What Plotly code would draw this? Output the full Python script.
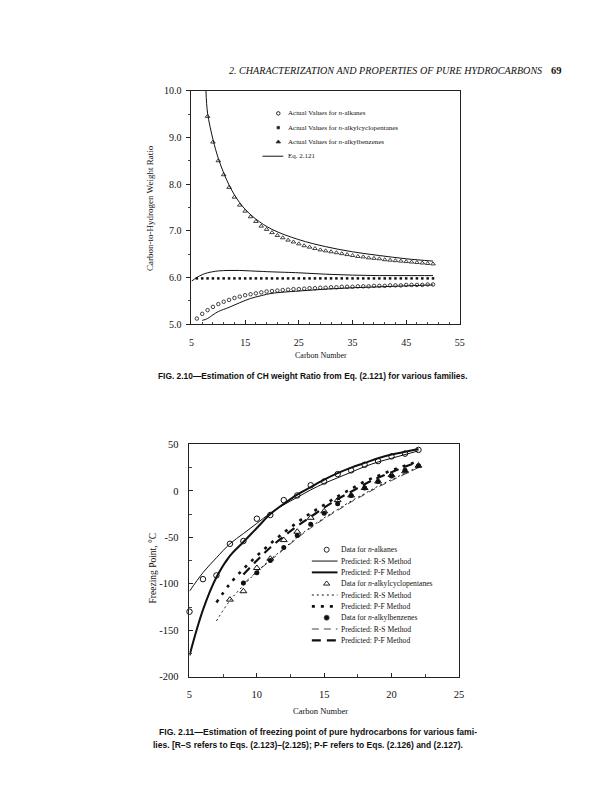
import plotly.graph_objects as go

# ---------------- FIG. 2.10 data (CH weight ratio) ----------------
cn_alkanes = list(range(6, 51))
ch_alkanes = [5.12, 5.22, 5.30, 5.37, 5.43, 5.48, 5.52, 5.56, 5.59, 5.62, 5.64, 5.66,
              5.68, 5.70, 5.71, 5.72, 5.73, 5.74, 5.75, 5.75, 5.76, 5.77, 5.77, 5.78,
              5.78, 5.79, 5.79, 5.80, 5.80, 5.80, 5.81, 5.81, 5.81, 5.82, 5.82, 5.82,
              5.83, 5.83, 5.83, 5.84, 5.84, 5.84, 5.84, 5.85, 5.85]
cn_cyclo = list(range(6, 51))
ch_cyclo = [5.98, 5.98, 5.98, 5.98, 5.98, 5.98, 5.98, 5.98, 5.98, 5.98, 5.98, 5.98,
            5.98, 5.98, 5.98, 5.98, 5.98, 5.98, 5.98, 5.98, 5.98, 5.98, 5.98, 5.98,
            5.98, 5.98, 5.98, 5.98, 5.98, 5.98, 5.98, 5.98, 5.98, 5.98, 5.98, 5.98,
            5.98, 5.98, 5.98, 5.98, 5.98, 5.98, 5.98, 5.98, 5.98]
cn_benz = list(range(8, 51))
ch_benz = [9.45, 8.90, 8.50, 8.20, 7.93, 7.72, 7.55, 7.42, 7.30, 7.20, 7.10, 7.03,
           6.96, 6.90, 6.85, 6.80, 6.76, 6.72, 6.68, 6.65, 6.62, 6.59, 6.57, 6.55,
           6.53, 6.51, 6.49, 6.47, 6.45, 6.44, 6.42, 6.41, 6.40, 6.38, 6.37, 6.36,
           6.35, 6.34, 6.33, 6.32, 6.31, 6.30, 6.29]

eq_cn_alk = [7, 8, 9, 10, 12, 14, 16, 18, 20, 25, 30, 35, 40, 45, 50]
eq_ch_alk = [5.08, 5.12, 5.20, 5.27, 5.36, 5.46, 5.55, 5.61, 5.66, 5.71, 5.75, 5.78, 5.80, 5.82, 5.84]
eq_cn_cyc = [5, 6, 7, 8, 10, 12, 14, 16, 18, 20, 25, 30, 35, 40, 45, 50]
eq_ch_cyc = [5.92, 6.00, 6.06, 6.10, 6.14, 6.15, 6.15, 6.14, 6.13, 6.12, 6.10, 6.07, 6.05, 6.04, 6.04, 6.04]
eq_cn_bz = [7.7, 8, 9, 10, 11, 12, 13, 14, 15, 17, 20, 25, 30, 35, 40, 45, 50]
eq_ch_bz = [10.0, 9.52, 8.96, 8.55, 8.24, 7.98, 7.77, 7.60, 7.46, 7.25, 7.03, 6.81, 6.66, 6.55, 6.47, 6.40, 6.35]

top_xticks = [5, 15, 25, 35, 45, 55]
top_yticks = [5.0, 6.0, 7.0, 8.0, 9.0, 10.0]

# ---------------- FIG. 2.11 data (freezing point, °C) ----------------
cn_fp_alk = list(range(5, 23))
fp_alkanes = [-130, -95, -91, -57, -54, -30, -26, -10, -5, 6, 10, 18, 22, 28, 32, 37, 40, 44]
rs_alk = [-108, -88, -72, -57, -46, -35, -24, -15, -7, 1, 8, 14, 20, 26, 31, 35, 39, 43]
pf_alk = [-177, -128, -93, -70, -55, -40, -25, -14, -4, 4, 12, 19, 25, 30, 35, 39, 42, 45]

cn_fp_cyc = list(range(8, 23))
fp_cyclo = [-117, -108, -83, -73, -53, -44, -29, -22, -10, -5, 3, 10, 17, 21, 27]
cn_line_cyc = list(range(7, 23))
rs_cyc = [-140, -118, -102, -87, -74, -62, -50, -39, -29, -20, -11, -3, 5, 12, 19, 26]
pf_cyc = [-120, -100, -84, -70, -57, -45, -34, -24, -15, -6, 2, 10, 16, 22, 27, 32]

cn_fp_bz = list(range(9, 23))
fp_benz = [-99, -88, -75, -61, -48, -36, -24, -14, -5, 3, 10, 16, 22, 27]
rs_bz = [-100, -87, -75, -63, -51, -40, -30, -21, -12, -4, 4, 11, 18, 25]
pf_bz = [-90, -75, -61, -49, -38, -28, -18, -9, -1, 7, 14, 20, 26, 31]

bot_xticks = [5, 10, 15, 20, 25]
bot_yticks = [-200, -150, -100, -50, 0, 50]
bot_yticktext = ["-200", "-150", "-100", "-50", "0", "50"]

W, H = 604, 800
SERIF = "Liberation Serif"
SANS = "Liberation Sans"
BLACK = "#111111"

fig = go.Figure()

# ----- top chart traces -----
for xs, ys in [(eq_cn_alk, eq_ch_alk), (eq_cn_cyc, eq_ch_cyc), (eq_cn_bz, eq_ch_bz)]:
    fig.add_trace(go.Scatter(x=xs, y=ys, mode="lines", line=dict(color=BLACK, width=1, shape="spline"),
                             xaxis="x", yaxis="y", showlegend=False))
fig.add_trace(go.Scatter(x=cn_alkanes, y=ch_alkanes, mode="markers", cliponaxis=False,
                         marker=dict(symbol="circle-open", size=3.5, color=BLACK, line=dict(width=0.8)),
                         xaxis="x", yaxis="y", showlegend=False))
fig.add_trace(go.Scatter(x=cn_cyclo, y=ch_cyclo, mode="markers", cliponaxis=False,
                         marker=dict(symbol="square", size=2.5, color=BLACK),
                         xaxis="x", yaxis="y", showlegend=False))
fig.add_trace(go.Scatter(x=cn_benz, y=ch_benz, mode="markers", cliponaxis=False,
                         marker=dict(symbol="triangle-up-open", size=4, color=BLACK, line=dict(width=0.8)),
                         xaxis="x", yaxis="y", showlegend=False))

# ----- bottom chart traces -----
def line(x, y, width, dash):
    return go.Scatter(x=x, y=y, mode="lines", line=dict(color=BLACK, width=width, dash=dash, shape="spline"),
                      xaxis="x2", yaxis="y2", showlegend=False)

fig.add_trace(line(cn_fp_alk, rs_alk, 1, "solid"))
fig.add_trace(line(cn_fp_alk, pf_alk, 2, "solid"))
fig.add_trace(line(cn_line_cyc, rs_cyc, 1, "2px,3px"))
fig.add_trace(line(cn_line_cyc, pf_cyc, 2.6, "3px,6px"))
fig.add_trace(line(cn_fp_bz, rs_bz, 0.8, "7px,5px"))
fig.add_trace(line(cn_fp_bz, pf_bz, 2.2, "9px,6px"))
fig.add_trace(go.Scatter(x=cn_fp_alk, y=fp_alkanes, mode="markers", cliponaxis=False,
                         marker=dict(symbol="circle-open", size=5.5, color=BLACK, line=dict(width=1)),
                         xaxis="x2", yaxis="y2", showlegend=False))
fig.add_trace(go.Scatter(x=cn_fp_cyc, y=fp_cyclo, mode="markers", cliponaxis=False,
                         marker=dict(symbol="triangle-up-open", size=6, color=BLACK, line=dict(width=1)),
                         xaxis="x2", yaxis="y2", showlegend=False))
fig.add_trace(go.Scatter(x=cn_fp_bz, y=fp_benz, mode="markers", cliponaxis=False,
                         marker=dict(symbol="circle", size=5, color=BLACK),
                         xaxis="x2", yaxis="y2", showlegend=False))

# ----- legend keys (hidden page-pixel axis x3/y3) -----
def key_marker(px, py, symbol, size):
    fig.add_trace(go.Scatter(x=[px], y=[py], mode="markers",
                             marker=dict(symbol=symbol, size=size, color=BLACK, line=dict(width=0.9)),
                             xaxis="x3", yaxis="y3", showlegend=False, hoverinfo="skip"))

def key_line(x0, x1, py, width, dash):
    fig.add_trace(go.Scatter(x=[x0, x1], y=[py, py], mode="lines",
                             line=dict(color=BLACK, width=width, dash=dash),
                             xaxis="x3", yaxis="y3", showlegend=False, hoverinfo="skip"))

annotations = []
def key_text(px, py, text, size):
    annotations.append(dict(x=px, y=py, xref="x3", yref="y3", text=text, showarrow=False,
                            xanchor="left", yanchor="middle",
                            font=dict(family=SERIF, size=size, color=BLACK)))

top_leg_labels = ["Actual Values for <i>n</i>-alkanes",
                  "Actual Values for <i>n</i>-alkylcyclopentanes",
                  "Actual Values for <i>n</i>-alkylbenzenes",
                  "Eq. 2.121"]
top_rows = [109, 123.5, 138, 152.5]
key_marker(279, top_rows[0], "circle-open", 3.5)
key_marker(279, top_rows[1], "square", 2.5)
key_marker(279, top_rows[2], "triangle-up", 4)
key_line(263, 284, top_rows[3], 1, "solid")
for r, t in zip(top_rows, top_leg_labels):
    key_text(287, r, t, 7)

bot_leg_labels = ["Data for <i>n</i>-alkanes", "Predicted: R-S Method", "Predicted: P-F Method",
                  "Data for <i>n</i>-alkylcyclopentanes", "Predicted: R-S Method", "Predicted: P-F Method",
                  "Data for <i>n</i>-alkylbenzenes", "Predicted: R-S Method", "Predicted: P-F Method"]
bot_rows = [552, 563.5, 575, 586.5, 598, 609.5, 621, 632.5, 644]
key_marker(328, bot_rows[0], "circle-open", 5)
key_line(313, 339, bot_rows[1], 1, "solid")
key_line(313, 339, bot_rows[2], 2, "solid")
key_marker(328, bot_rows[3], "triangle-up-open", 5.5)
key_line(313, 339, bot_rows[4], 1, "2px,3px")
key_line(313, 339, bot_rows[5], 2.6, "3px,6px")
key_marker(328, bot_rows[6], "circle", 5)
key_line(313, 339, bot_rows[7], 0.8, "7px,5px")
key_line(313, 339, bot_rows[8], 2.2, "9px,6px")
for r, t in zip(bot_rows, bot_leg_labels):
    key_text(340, r, t, 7.6)

# ----- page texts -----
def page_text(px, py, text, size, family=SERIF, anchor="center", angle=0):
    annotations.append(dict(x=px / W, y=1 - py / H, xref="paper", yref="paper", text=text,
                            showarrow=False, xanchor=anchor, yanchor="middle", textangle=angle,
                            font=dict(family=family, size=size, color=BLACK)))

page_text(548, 65, "<i>2. CHARACTERIZATION AND PROPERTIES OF PURE HYDROCARBONS</i>", 10.1, anchor="right")
page_text(553, 65, "<b>69</b>", 10.5, anchor="left")
page_text(149, 205, "Carbon-to-Hydrogen Weight Ratio", 9, angle=-90)
page_text(322, 355, "Carbon Number", 8)
page_text(314, 376, "<b>FIG. 2.10—Estimation of CH weight Ratio from Eq. (2.121) for various families.</b>",
          8.4, family=SANS)
page_text(152, 570, "Freezing Point, °C", 9.5, angle=-90)
page_text(322, 716, "Carbon Number", 8.5)
page_text(156, 737, "<b>FIG. 2.11—Estimation of freezing point of pure hydrocarbons for various fami-</b>",
          8.6, family=SANS, anchor="left")
page_text(150, 750, "<b>lies. [R–S refers to Eqs. (2.123)–(2.125); P-F refers to Eqs. (2.126) and (2.127).</b>",
          8.5, family=SANS, anchor="left")

axis_common = dict(showgrid=False, zeroline=False, showline=True, linecolor="#222222", linewidth=1,
                   mirror=True, tickcolor="#222222", tickfont=dict(family=SERIF, size=10, color=BLACK))

fig.update_layout(
    width=W, height=H, margin=dict(l=0, r=0, t=0, b=0),
    paper_bgcolor="white", plot_bgcolor="rgba(0,0,0,0)",
    xaxis=dict(domain=[191 / W, 463 / W], range=[5, 55], anchor="y", tickvals=top_xticks,
               ticks="inside", ticklen=4, ticklabelstandoff=9,
               minor=dict(dtick=2, tick0=5, ticks="inside", ticklen=2.5, tickcolor="#444"),
               **axis_common),
    yaxis=dict(domain=[1 - 323 / H, 1 - 86 / H], range=[5, 10], anchor="x", tickvals=top_yticks,
               tickformat=".1f", ticks="outside", ticklen=4, ticklabelstandoff=3,
               minor=dict(dtick=0.5, ticks="outside", ticklen=2, tickcolor="#444"),
               **axis_common),
    xaxis2=dict(domain=[189 / W, 462 / W], range=[5, 25], anchor="y2", tickvals=bot_xticks,
                ticks="inside", ticklen=4, ticklabelstandoff=8,
                minor=dict(dtick=2.5, tick0=5, ticks="inside", ticklen=3, tickcolor="#444"),
                **axis_common),
    yaxis2=dict(domain=[1 - 681 / H, 1 - 445 / H], range=[-200, 50], anchor="x2", tickvals=bot_yticks,
                ticktext=bot_yticktext,
                ticks="inside", ticklen=4, ticklabelstandoff=8,
                minor=dict(dtick=25, ticks="inside", ticklen=3, tickcolor="#444"),
                **axis_common),
    xaxis3=dict(domain=[0, 1], range=[0, W], anchor="y3", visible=False, fixedrange=True),
    yaxis3=dict(domain=[0, 1], range=[H, 0], anchor="x3", visible=False, fixedrange=True),
    annotations=annotations,
    showlegend=False,
)
fig.update_xaxes(tickfont=dict(size=10.5), selector=dict(anchor="y2"))
fig.update_yaxes(tickfont=dict(size=10.5), selector=dict(anchor="x2"))

fig.write_html("out.html", config={"displayModeBar": False},
               post_script="document.body.style.margin='0';")
